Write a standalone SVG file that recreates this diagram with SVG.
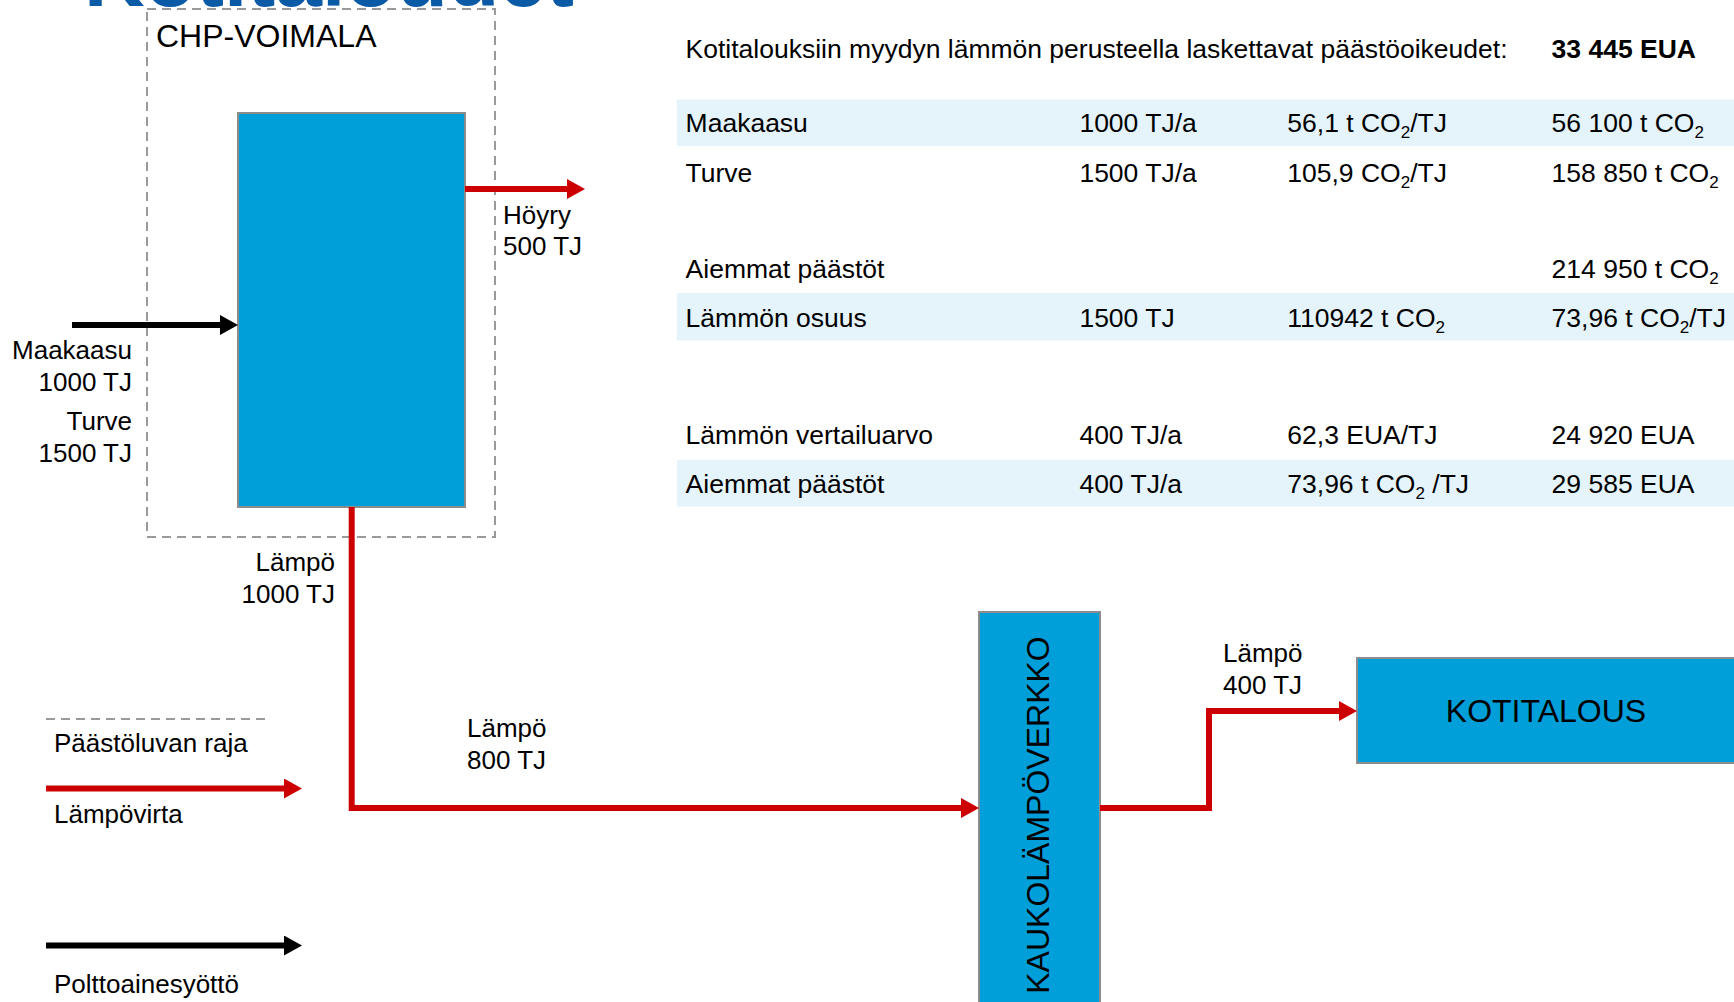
<svg xmlns="http://www.w3.org/2000/svg" width="1734" height="1002" viewBox="0 0 1734 1002">
<defs>
<style>
text{font-family:"Liberation Sans",Arial,sans-serif;fill:#000}
.t{font-size:26px}
#table .t{font-size:26.5px}
.big{font-size:32px}
.box{fill:#009fd9;stroke:#8c8c8c;stroke-width:2}
.band{fill:#e5f4fb}
.red{fill:none;stroke:#cc0000;stroke-width:6}
.blk{fill:none;stroke:#000;stroke-width:6}
.dash{fill:none;stroke:#9a9a9a;stroke-width:2;stroke-dasharray:9 6}
</style>
<marker id="ar" viewBox="0 0 18 20" refX="8" refY="10" markerUnits="userSpaceOnUse" markerWidth="18" markerHeight="20" orient="auto"><path d="M0,0 L18,10 L0,20 z" fill="#cc0000"/></marker>
<marker id="ab" viewBox="0 0 18 20" refX="8" refY="10" markerUnits="userSpaceOnUse" markerWidth="18" markerHeight="20" orient="auto"><path d="M0,0 L18,10 L0,20 z" fill="#000"/></marker>
</defs>
<rect width="1734" height="1002" fill="#fff"/>
<text x="84" y="6" style="font-size:84px;font-weight:bold;fill:#0a5aa5">Kotitaloudet</text>

<g id="table">
<rect class="band" x="677" y="99.5" width="1057" height="46.5"/>
<rect class="band" x="677" y="293" width="1057" height="47.5"/>
<rect class="band" x="677" y="460" width="1057" height="46.5"/>
<text class="t" x="685.6" y="58">Kotitalouksiin myydyn lämmön perusteella laskettavat päästöoikeudet:</text>
<text class="t" x="1551.6" y="58" font-weight="bold">33 445 EUA</text>

<text class="t" x="685.6" y="132">Maakaasu</text>
<text class="t" x="1079.4" y="132">1000 TJ/a</text>
<text class="t" x="1287.3" y="132">56,1 t CO<tspan font-size="17" dy="6">2</tspan><tspan dy="-6">/TJ</tspan></text>
<text class="t" x="1551.6" y="132">56 100 t CO<tspan font-size="17" dy="6">2</tspan></text>

<text class="t" x="685.6" y="182">Turve</text>
<text class="t" x="1079.4" y="182">1500 TJ/a</text>
<text class="t" x="1287.3" y="182">105,9 CO<tspan font-size="17" dy="6">2</tspan><tspan dy="-6">/TJ</tspan></text>
<text class="t" x="1551.6" y="182">158 850 t CO<tspan font-size="17" dy="6">2</tspan></text>

<text class="t" x="685.6" y="278">Aiemmat päästöt</text>
<text class="t" x="1551.6" y="278">214 950 t CO<tspan font-size="17" dy="6">2</tspan></text>

<text class="t" x="685.6" y="327">Lämmön osuus</text>
<text class="t" x="1079.4" y="327">1500 TJ</text>
<text class="t" x="1287.3" y="327">110942 t CO<tspan font-size="17" dy="6">2</tspan></text>
<text class="t" x="1551.6" y="327">73,96 t CO<tspan font-size="17" dy="6">2</tspan><tspan dy="-6">/TJ</tspan></text>

<text class="t" x="685.6" y="444">Lämmön vertailuarvo</text>
<text class="t" x="1079.4" y="444">400 TJ/a</text>
<text class="t" x="1287.3" y="444">62,3 EUA/TJ</text>
<text class="t" x="1551.6" y="444">24 920 EUA</text>

<text class="t" x="685.6" y="493">Aiemmat päästöt</text>
<text class="t" x="1079.4" y="493">400 TJ/a</text>
<text class="t" x="1287.3" y="493">73,96 t CO<tspan font-size="17" dy="6">2</tspan><tspan dy="-6"> /TJ</tspan></text>
<text class="t" x="1551.6" y="493">29 585 EUA</text>
</g>

<g id="chp-boundary">
<rect class="dash" x="147" y="9" width="348" height="528"/>
<text class="big" x="156" y="47">CHP-VOIMALA</text>
</g>

<g id="chp-plant">
<rect class="box" x="238" y="113" width="227" height="394"/>
</g>

<g id="kaukolampoverkko">
<rect class="box" x="979" y="612" width="121" height="400"/>
<text class="big" transform="translate(1049,815) rotate(-90)" text-anchor="middle">KAUKOLÄMPÖVERKKO</text>
</g>

<g id="kotitalous">
<rect class="box" x="1357" y="658" width="390" height="105"/>
<text class="big" x="1546" y="722" text-anchor="middle">KOTITALOUS</text>
</g>

<g id="connectors">
<path class="blk" d="M72,325 H228" marker-end="url(#ab)"/>
<path class="red" d="M465,189 H575" marker-end="url(#ar)"/>
<path class="red" d="M351.7,507 V808 H969" marker-end="url(#ar)"/>
<path class="red" d="M1100,808 H1209 V711 H1347" marker-end="url(#ar)"/>
</g>

<g id="labels">
<text class="t" x="503" y="224">Höyry</text>
<text class="t" x="503" y="255">500 TJ</text>
<text class="t" x="132" y="359" text-anchor="end">Maakaasu</text>
<text class="t" x="132" y="391" text-anchor="end">1000 TJ</text>
<text class="t" x="132" y="430" text-anchor="end">Turve</text>
<text class="t" x="132" y="462" text-anchor="end">1500 TJ</text>
<text class="t" x="335" y="571" text-anchor="end">Lämpö</text>
<text class="t" x="335" y="603" text-anchor="end">1000 TJ</text>
<text class="t" x="467" y="737">Lämpö</text>
<text class="t" x="467" y="769">800 TJ</text>
<text class="t" x="1223" y="662">Lämpö</text>
<text class="t" x="1223" y="694">400 TJ</text>
</g>

<g id="legend">
<path class="dash" d="M46,719 H269"/>
<text class="t" x="54" y="752">Päästöluvan raja</text>
<path class="red" d="M46,788.5 H292" marker-end="url(#ar)"/>
<text class="t" x="54" y="823">Lämpövirta</text>
<path class="blk" d="M46,945.5 H292" marker-end="url(#ab)"/>
<text class="t" x="54" y="993">Polttoainesyöttö</text>
</g>
</svg>
